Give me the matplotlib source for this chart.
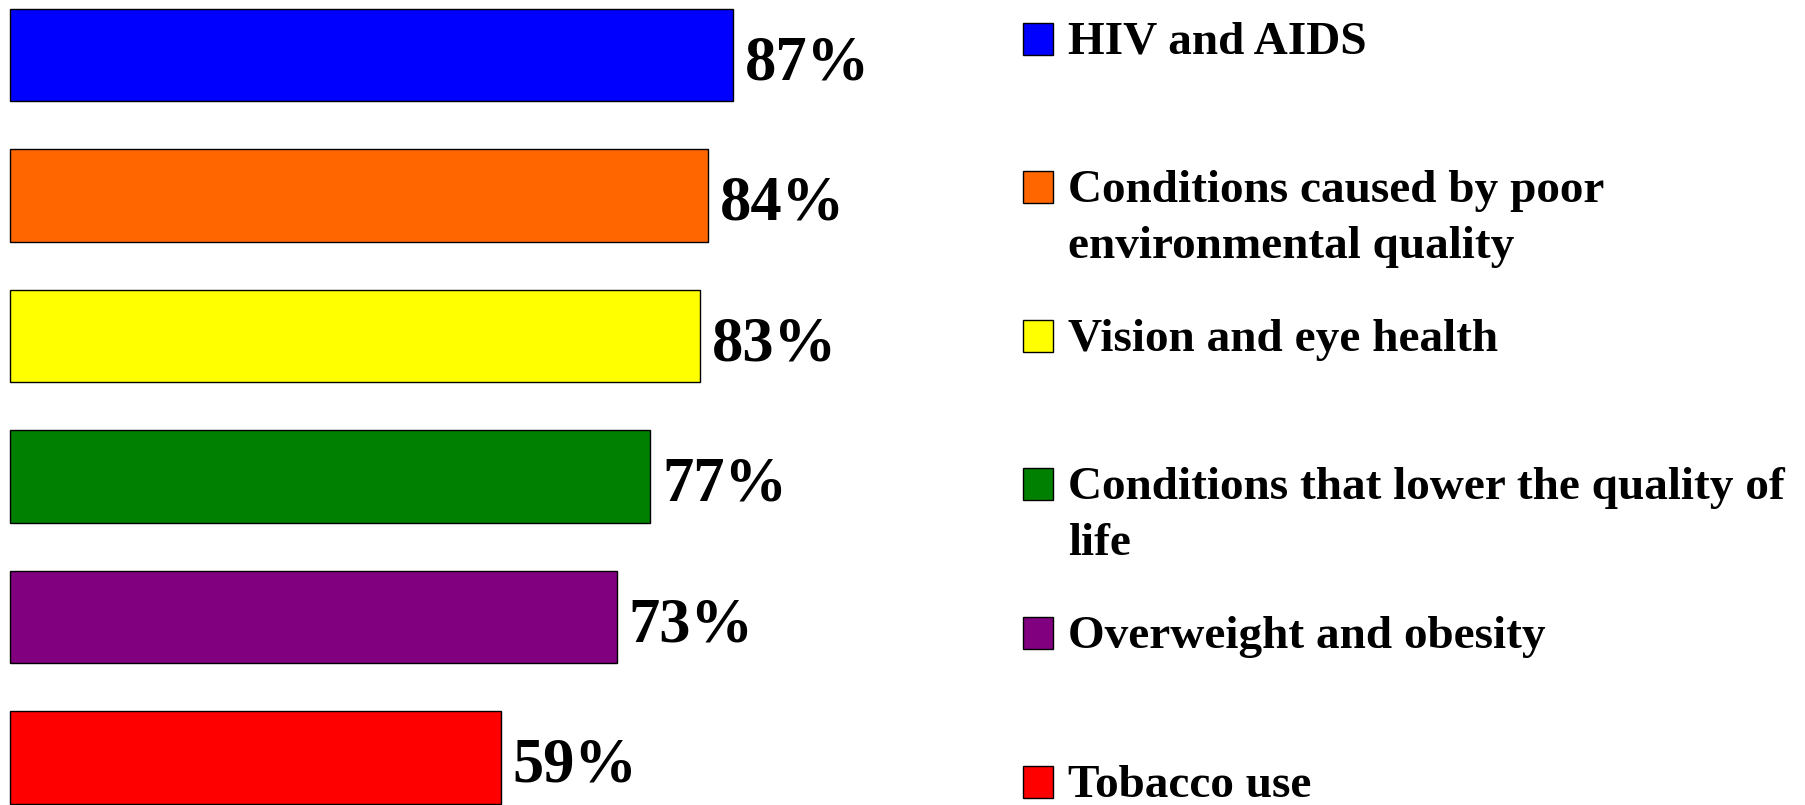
import numpy as np
import matplotlib
matplotlib.use('Agg')
import matplotlib.pyplot as plt
from matplotlib.patches import Rectangle

# данные
categories = ['HIV and AIDS',
              'Conditions caused by poor\nenvironmental quality',
              'Vision and eye health',
              'Conditions that lower the quality of\nlife',
              'Overweight and obesity',
              'Tobacco use']
values = [87, 84, 83, 77, 73, 59]
colors = ['#0000FF', '#FF6600', '#FFFF00', '#008000', '#800080', '#FF0000']

plt.rcParams['font.family'] = ['Liberation Serif', 'DejaVu Serif']
plt.rcParams['font.weight'] = 'bold'

W, H = 1806, 805
fig = plt.figure(figsize=(W / 100, H / 100), dpi=100)
ax = fig.add_axes([0, 0, 1, 1])

# бары
y = np.arange(len(values))
ax.barh(y, values, height=0.655, color=colors, edgecolor='black', linewidth=1.0)
ax.set_xlim(-10.4 / 8.31, (W - 10.4) / 8.31)
ax.set_ylim((H - 55) / 140.5, -55 / 140.5)
ax.axis('off')

# подписи значений
for i, v in enumerate(values):
    ax.text(v + 1.4, i + 0.171, f'{v}%', fontsize=45, fontweight='bold',
            va='baseline', ha='left', color='black')

# легенда вручную (пиксели фигуры)
sq_w, sq_h = 30 / W, 32 / H
for i, (lab, c) in enumerate(zip(categories, colors)):
    cy = 38.6 + 148.6 * i
    top = 1 - (cy - 16) / H
    fig.patches.append(Rectangle((1023 / W, top - sq_h), sq_w, sq_h,
                                 transform=fig.transFigure, facecolor=c,
                                 edgecolor='black', linewidth=1.0))
    fig.text(1068 / W, top + 1 / H, lab, fontsize=34, fontweight='bold',
             va='top', ha='left', linespacing=1.42)

fig.savefig('out.png', dpi=100)
plt.close(fig)
